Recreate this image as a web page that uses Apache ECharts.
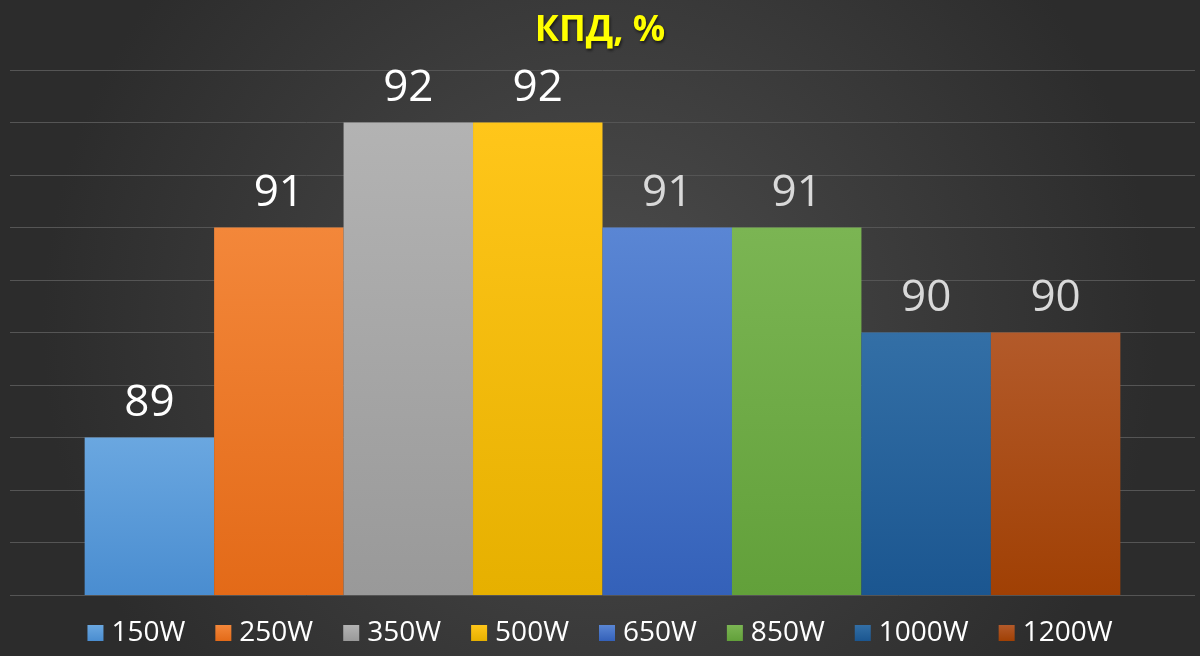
<!DOCTYPE html>
<html>
<head>
<meta charset="utf-8">
<script src="https://cdn.jsdelivr.net/npm/echarts@6/dist/echarts.min.js"></script>
<style>
html,body{margin:0;padding:0;background:#3a3a3a;}
#main{width:1200px;height:656px;}
</style>
</head>
<body>
<div id="main"></div>
<script>
const titleText = 'КПД, %';
const seriesNames = ['150W', '250W', '350W', '500W', '650W', '850W', '1000W', '1200W'];
const efficiency = [89, 91, 92, 92, 91, 91, 90, 90];
const yMin = 87.5, yMax = 92.5, yStep = 0.5;

const topColors = ['#6aa7e0', '#f3873a', '#b3b3b3', '#ffc61a', '#5a86d4', '#7bb553', '#336fa6', '#b35a2a'];
const bottomColors = ['#4a8dd0', '#e36a18', '#999999', '#e6b000', '#3461b9', '#62a03a', '#1b5690', '#a04004'];
const labelColors = ['#ffffff', '#ffffff', '#ffffff', '#ffffff', '#d9d9d9', '#d9d9d9', '#d9d9d9', '#d9d9d9'];

const chart = echarts.init(document.getElementById('main'));

const series = seriesNames.map((name, i) => ({
  name: name,
  type: 'bar',
  data: [efficiency[i]],
  barGap: '0%',
  barCategoryGap: '12.6%',
  itemStyle: {
    color: new echarts.graphic.LinearGradient(0, 0, 0, 1, [
      {offset: 0, color: topColors[i]},
      {offset: 1, color: bottomColors[i]}
    ])
  },
  label: {
    show: true,
    position: 'top',
    distance: 12,
    color: labelColors[i],
    fontFamily: 'Open Sans',
    fontSize: 44
  }
}));

chart.setOption({
  backgroundColor: {
    type: 'radial', x: 0.5, y: 0.5, r: 0.85,
    colorStops: [
      {offset: 0, color: '#4d4d4d'},
      {offset: 1, color: '#2c2c2c'}
    ]
  },
  title: {
    text: titleText,
    left: 'center',
    top: 8,
    textStyle: {
      color: '#ffff00',
      fontFamily: 'Open Sans',
      fontWeight: 'bold',
      fontSize: 36,
      textShadowColor: 'rgba(0,0,0,0.6)',
      textShadowBlur: 3,
      textShadowOffsetX: 1,
      textShadowOffsetY: 2
    }
  },
  legend: {
    data: seriesNames,
    left: 'center',
    top: 614,
    padding: [5, 0, 5, 12],
    icon: 'rect',
    itemWidth: 16,
    itemHeight: 16,
    itemGap: 30,
    textStyle: {
      color: '#ffffff',
      fontFamily: 'Open Sans',
      fontSize: 28,
      padding: [0, 0, 0, 3]
    }
  },
  grid: {
    left: 10,
    right: 5,
    top: 70,
    bottom: 61,
    containLabel: false
  },
  xAxis: {
    type: 'category',
    data: [''],
    axisLine: {show: false},
    axisTick: {show: false},
    axisLabel: {show: false}
  },
  yAxis: {
    type: 'value',
    min: yMin,
    max: yMax,
    interval: yStep,
    axisLine: {show: false},
    axisTick: {show: false},
    axisLabel: {show: false},
    splitLine: {lineStyle: {color: '#555555', width: 1}}
  },
  series: series
});
</script>
</body>
</html>
